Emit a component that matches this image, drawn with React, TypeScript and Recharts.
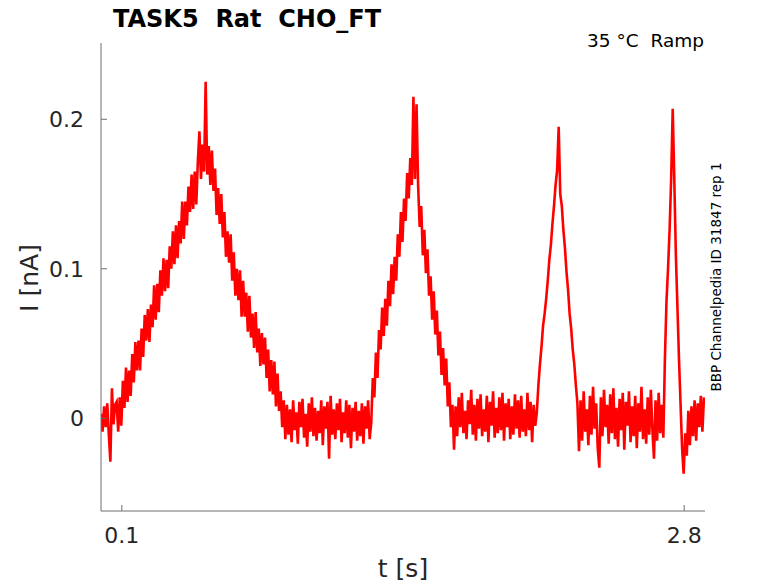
import React from 'react';
import { LineChart, Line, XAxis, YAxis } from 'recharts';

// sampling step of the trace (s)
const STEP = 0.0075;

// current values in pA, segment by segment
const baseline1 = [3, -9, 8, -6, 10, -11, -29, 20, -4, 9];
const rampUp1 = [
  11, -9, 14, -5, 25, 7, 34, 11, 32, 15, 43, 24, 51, 32, 52, 32, 60, 41, 69, 52,
  73, 51, 76, 61, 89, 66, 90, 71, 99, 82, 107, 85, 106, 87, 115, 100, 125, 103, 129, 107,
  132, 117, 145, 120, 145, 129, 155, 138, 163, 140, 165, 143, 172, 192, 160, 183, 165,
];
const rampDown1 = [
  225, 163, 182, 156, 179, 152, 167, 136, 154, 130, 150, 121, 138, 108, 125, 104, 123, 92, 111, 82,
  100, 79, 99, 68, 92, 68, 84, 58, 82, 54, 70, 47, 71, 44, 60, 35, 57, 36, 54, 27,
  46, 18, 39, 16, 38, 8, 30, 5, 18, -6, 12,
];
const baseline2 = [
  -14, 9, -11, 6, -16, 12, -8, 4, -17, 11, -6, 13, -13, 3, -19, 10, -9, 14, -12, 7,
  -15, 5, -10, 12, -18, 8, -7, 11, -27, 15, -11, 6, -14, 10, -8, 13, -16, 4, -10, 12,
  -13, 9, -20, 7, -9, 11, -15, 5, -12, 10, -17, 8, -7, 12, -14,
];
const ramp2 = [
  -3, 27, 14, 44, 27, 59, 46, 74, 55, 80, 62, 92, 75, 103, 83, 108, 92, 123, 108, 138,
  118, 147, 132, 164, 147, 174, 156, 215, 160, 210, 156, 128, 142, 109, 126, 97, 113, 82, 95, 66,
  85, 56, 72, 42, 58, 29, 47, 22, 40, 8, 24, -6, 9,
];
const baseline3 = [
  -21, 8, -12, 14, -6, 17, -10, 5, -14, 12, -4, 19, -11, 9, -15, 13, -7, 16, -12, 6,
  -9, 15, -16, 11, -5, 18, -13, 7, -10, 14, -8, 17, -15, 10, -6, 13, -14, 8, -11, 16,
  -7, 12, -13, 15, -9, 6, -12, 17, -8, 11, -16, 9, -5,
];
const ramp3 = [
  4, 22, 36, 48, 62, 70, 80, 92, 106, 116, 130, 142, 156, 166, 195, 150, 142, 126, 114, 98,
  86, 70, 60, 46, 36, 22, 10, -22,
];
const baseline4 = [
  12, -15, 18, -9, 6, -18, 15, -11, 21, -7, 10, -20, -33, 14, -12, 19, -6, 9, -17, 16,
  -10, 20, -14, 7, -19, 13, -8, 17, -21, 11, -5, 18, -16, 8, -12, 15, -20, 10, -9, 21,
  -14, 6, -17, 14, -11, 19, -8, -27, 12, -15, 17, -10, 9, -13,
];
const ramp4 = [40, 78, 100, 126, 160, 207, 160, 110, 75, 40, 10, -20, -37];
const baseline5 = [-10, -25, 5, -18, 8, -12, 12, -15, 10, -6, 15, -9, 14];

// segment start times (s)
const segmentStarts = [0, 0.075, 0.5025, 0.885, 1.2975, 1.695, 2.0925, 2.3025, 2.7075, 2.805];
const segmentValues = [
  baseline1, rampUp1, rampDown1, baseline2, ramp2, baseline3, ramp3, baseline4, ramp4, baseline5,
];

const xTicks = [0.1, 2.8];
const yTicks = [0, 0.1, 0.2];
const xDomain = [0, 2.9];
const yDomain = [-0.062, 0.251];

const titleText = 'TASK5  Rat  CHO_FT';
const conditionText = '35 °C  Ramp';
const sourceText = 'BBP Channelpedia ID 31847 rep 1';
const xLabel = 't [s]';
const yLabel = 'I [nA]';

const data = segmentStarts.flatMap((start, s) =>
  segmentValues[s].map((v, k) => ({ t: +(start + k * STEP).toFixed(4), i: v / 1000 }))
);

const W = 778;
const H = 583;
const FONT = 'DejaVu Sans';
const TEXT = '#262626';
const AXIS = '#6e6e6e';
const PRE = { whiteSpace: 'pre' as const };

export default function App() {
  return (
    <div style={{ position: 'absolute', left: 0, top: 0, width: W, height: H, background: '#fff' }}>
      <LineChart
        width={W}
        height={H}
        data={data}
        margin={{ top: 43, right: 73, bottom: 32, left: 0 }}
      >
        <XAxis
          dataKey="t"
          type="number"
          domain={xDomain}
          ticks={xTicks}
          allowDataOverflow
          height={40}
          stroke={AXIS}
          tickSize={-6}
          tickMargin={22}
          tick={{ fill: TEXT, fontSize: 22, fontFamily: FONT }}
          tickFormatter={(v) => String(v)}
        />
        <YAxis
          type="number"
          domain={yDomain}
          ticks={yTicks}
          allowDataOverflow
          width={101}
          stroke={AXIS}
          tickSize={-6}
          tickMargin={23}
          tick={{ fill: TEXT, fontSize: 22, fontFamily: FONT }}
          tickFormatter={(v) => (v === 0 ? '0' : String(v))}
        />
        <Line
          type="linear"
          dataKey="i"
          stroke="#ff0000"
          strokeWidth={2.6}
          strokeLinejoin="miter"
          dot={false}
          isAnimationActive={false}
        />
      </LineChart>
      <svg
        width={W}
        height={H}
        style={{ position: 'absolute', left: 0, top: 0, pointerEvents: 'none' }}
      >
        <text x={113} y={27} style={PRE} fontFamily={FONT} fontWeight="bold" fontSize={24} fill="#000">
          {titleText}
        </text>
        <text x={704} y={47} style={PRE} textAnchor="end" fontFamily={FONT} fontSize={18.5} fill="#000">
          {conditionText}
        </text>
        <text
          x={721}
          y={277}
          textAnchor="middle"
          fontFamily={FONT}
          fontSize={13.5}
          fill="#000"
          transform="rotate(-90 721 277)"
        >
          {sourceText}
        </text>
        <text x={403} y={577} textAnchor="middle" fontFamily={FONT} fontSize={25} fill={TEXT}>
          {xLabel}
        </text>
        <text
          x={38}
          y={278}
          textAnchor="middle"
          fontFamily={FONT}
          fontSize={25}
          fill={TEXT}
          transform="rotate(-90 38 278)"
        >
          {yLabel}
        </text>
      </svg>
    </div>
  );
}
